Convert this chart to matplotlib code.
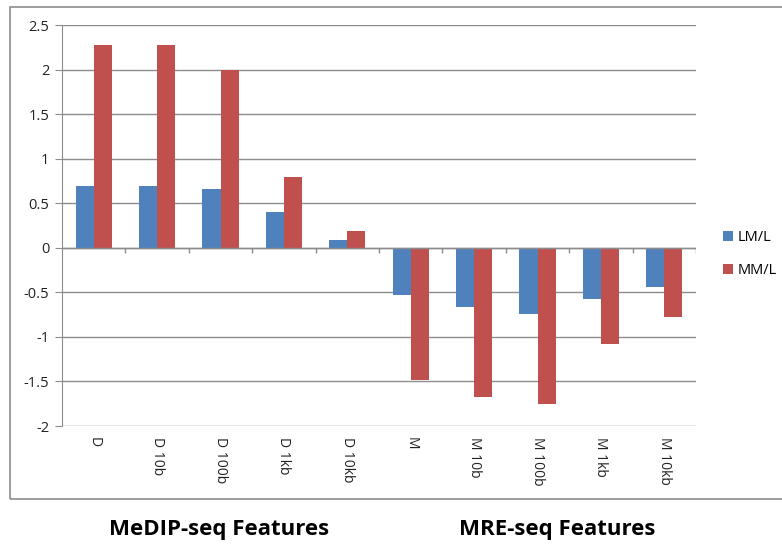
import numpy as np
import matplotlib.pyplot as plt
from matplotlib.patches import Rectangle

plt.rcParams['font.family'] = ['Open Sans', 'DejaVu Sans']

categories = ["D", "D 10b", "D 100b", "D 1kb", "D 10kb",
              "M", "M 10b", "M 100b", "M 1kb", "M 10kb"]
lm_l = [0.69, 0.69, 0.66, 0.40, 0.09, -0.53, -0.66, -0.74, -0.57, -0.44]
mm_l = [2.28, 2.28, 1.99, 0.79, 0.19, -1.48, -1.67, -1.75, -1.08, -0.78]

BLUE = "#4F81BD"
RED = "#C0504D"
GRID = "#8C8C8C"

fig = plt.figure(figsize=(7.82, 5.46), dpi=100)
ax = fig.add_axes([62 / 782, 1 - 426 / 546, (696 - 62) / 782, (426 - 25) / 546])

x = np.arange(len(categories))
w = 1 / 3.5
ax.bar(x - w / 2, lm_l, w, color=BLUE, label="LM/L", zorder=3)
ax.bar(x + w / 2, mm_l, w, color=RED, label="MM/L", zorder=3)

ax.set_xlim(-0.5, len(categories) - 0.5)
ax.set_ylim(-2, 2.5)
ax.set_yticks(np.arange(-2, 2.51, 0.5))
ax.set_yticklabels(["-2", "-1.5", "-1", "-0.5", "0", "0.5", "1", "1.5", "2", "2.5"])
ax.yaxis.grid(True, color=GRID, linewidth=1.0, zorder=0)
ax.set_axisbelow(True)

ax.set_xticks(x)
ax.set_xticklabels(categories, rotation=-90, va="top", ha="center")
ax.tick_params(axis="x", length=0, pad=8, labelsize=10, labelcolor="#222222")
ax.tick_params(axis="y", length=5, color=GRID, pad=4, labelsize=10.5, labelcolor="#222222")

for side in ("top", "right", "bottom"):
    ax.spines[side].set_visible(False)
ax.spines["left"].set_color(GRID)

# category axis crosses at zero, with tick marks between groups
ax.axhline(0, color=GRID, linewidth=1.0, zorder=4)
ax.vlines(np.arange(0.5, len(categories), 1.0), -0.06, 0, color=GRID, linewidth=1.0, zorder=4)

fig.legend(loc="center left", bbox_to_anchor=(710 / 782, 1 - 254 / 546),
           frameon=False, fontsize=10.5, handlelength=0.7, handleheight=0.7,
           handletextpad=0.3, labelspacing=1.2)

# outer chart frame
fig.patches.append(Rectangle((10 / 782, 1 - 499 / 546), 780 / 782, (499 - 7) / 546,
                             transform=fig.transFigure, fill=False,
                             edgecolor="#8C8C8C", linewidth=1.2))

fig.text(219 / 782, 1 - 530 / 546, "MeDIP-seq Features", ha="center", va="center",
         fontsize=16, fontweight="bold")
fig.text(557 / 782, 1 - 530 / 546, "MRE-seq Features", ha="center", va="center",
         fontsize=16, fontweight="bold")

fig.savefig("out.png", dpi=100)
